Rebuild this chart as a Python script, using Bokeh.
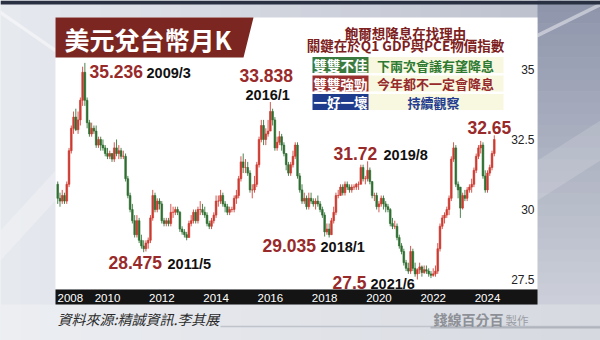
import pandas as pd
from bokeh.plotting import figure
from bokeh.models import Range1d, ColumnDataSource
from bokeh.core.properties import value
from bokeh.embed import file_html
from bokeh.resources import INLINE

# ---------------- data (monthly USD/TWD, 2008/3 .. 2024/4) ----------------
first_month = "2008-03"

open_ = [
    30.9, 30.4, 30.3, 30.5, 30.3, 30.9, 32.1, 32.9, 33.3, 32.85,                 # 2008 Mar-Dec
    33.2, 33.9, 34.9, 33.9, 33.1, 32.7, 32.9, 32.8, 32.3, 32.5, 32.3, 32.2,      # 2009
    32.0, 31.9, 32.0, 31.8, 32.2, 32.0, 32.1, 31.9, 31.9, 31.1, 30.5, 30.0,      # 2010
    29.6, 29.1, 29.6, 28.9, 28.7, 28.6, 28.8, 28.9, 29.7, 30.5, 30.0, 30.3,      # 2011
    30.2, 29.6, 29.5, 29.6, 29.5, 29.9, 29.9, 30.0, 29.9, 29.3, 29.2, 29.1,      # 2012
    29.0, 29.5, 29.6, 29.9, 29.6, 30.0, 30.0, 29.9, 29.8, 29.5, 29.4, 29.6,      # 2013
    29.8, 30.3, 30.3, 30.5, 30.2, 30.1, 29.9, 30.0, 30.0, 30.4, 30.5, 31.1,      # 2014
    31.7, 31.5, 31.5, 31.3, 30.7, 30.7, 30.9, 31.6, 32.5, 33.0, 32.5, 32.7,      # 2015
    32.8, 33.5, 33.2, 32.2, 32.4, 32.6, 32.3, 32.0, 31.6, 31.3, 31.6, 31.9,      # 2016
    32.3, 31.2, 30.7, 30.3, 30.4, 30.1, 30.4, 30.3, 30.2, 30.3, 30.2, 30.0,      # 2017
    29.8, 29.2, 29.3, 29.1, 29.6, 29.9, 30.5, 30.5, 30.8, 30.6, 30.9, 30.8,      # 2018
    30.7, 30.8, 30.8, 30.9, 30.9, 31.5, 31.1, 31.1, 31.4, 31.0, 30.5, 30.5,      # 2019
    30.1, 30.2, 30.4, 30.2, 30.1, 30.0, 29.5, 29.4, 29.4, 29.0, 28.7, 28.5,      # 2020
    28.1, 27.9, 27.8, 28.5, 27.9, 27.7, 27.85, 27.95, 27.75, 27.85, 27.8, 27.7,  # 2021
    27.65, 27.7, 27.8, 28.6, 29.4, 29.7, 29.8, 30.0, 30.4, 31.8, 32.2, 30.9,     # 2022
    30.8, 30.05, 30.5, 30.4, 30.7, 30.8, 30.9, 31.4, 31.9, 32.2, 32.3, 31.2,     # 2023
    30.7, 31.3, 31.5, 32.0,                                                     # 2024 Jan-Apr
]
high = [
    31.0, 30.6, 30.7, 30.6, 31.0, 32.2, 33.0, 33.5, 33.6, 33.5,
    34.0, 35.1, 35.236, 34.0, 33.2, 33.1, 33.0, 33.0, 32.6, 32.6, 32.5, 32.3,
    32.2, 32.1, 32.0, 32.4, 32.5, 32.3, 32.2, 32.1, 32.0, 31.2, 30.6, 30.2,
    29.8, 29.8, 29.7, 29.1, 28.9, 28.9, 29.0, 29.8, 30.7, 30.6, 30.4, 30.4,
    30.3, 29.7, 29.7, 29.7, 30.2, 30.1, 30.1, 30.1, 29.95, 29.4, 29.3, 29.2,
    29.6, 29.8, 30.0, 30.0, 30.1, 30.3, 30.2, 30.1, 29.9, 29.6, 29.7, 29.9,
    30.5, 30.5, 30.7, 30.6, 30.3, 30.2, 30.1, 30.1, 30.5, 30.7, 31.2, 31.9,
    32.0, 31.8, 31.7, 31.4, 30.9, 31.2, 31.7, 32.6, 33.2, 33.2, 32.9, 33.2,
    33.838, 33.6, 33.3, 32.6, 32.8, 32.7, 32.4, 32.0, 31.7, 31.7, 32.1, 32.4,
    32.4, 31.3, 30.9, 30.6, 30.5, 30.6, 30.6, 30.4, 30.4, 30.5, 30.3, 30.1,
    29.9, 29.5, 29.5, 29.7, 30.1, 30.6, 30.7, 30.9, 30.9, 31.0, 31.0, 30.9,
    30.9, 30.9, 30.95, 31.0, 31.6, 31.6, 31.2, 31.72, 31.5, 31.0, 30.6, 30.6,
    30.3, 30.5, 30.5, 30.3, 30.2, 30.05, 29.7, 29.6, 29.5, 29.1, 28.8, 28.6,
    28.2, 28.1, 28.7, 28.6, 28.1, 27.9, 28.1, 28.0, 28.0, 28.0, 27.9, 27.8,
    27.9, 28.0, 28.8, 29.5, 29.8, 29.9, 30.1, 30.5, 31.9, 32.4, 32.3, 31.0,
    30.8, 30.6, 30.7, 30.8, 30.9, 31.1, 31.5, 32.0, 32.3, 32.45, 32.4, 31.4,
    31.4, 31.6, 32.1, 32.65,
]
low = [
    30.2, 30.1, 30.2, 30.2, 30.2, 30.8, 32.0, 32.7, 32.8, 32.7,
    33.0, 33.7, 33.7, 32.9, 32.6, 32.6, 32.7, 32.2, 32.2, 32.1, 32.1, 31.9,
    31.8, 31.8, 31.7, 31.7, 31.9, 31.8, 31.8, 31.8, 31.0, 30.4, 29.9, 29.5,
    29.0, 29.0, 28.8, 28.6, 28.475, 28.5, 28.6, 28.8, 29.6, 29.9, 29.9, 30.0,
    29.5, 29.4, 29.4, 29.4, 29.4, 29.7, 29.8, 29.8, 29.2, 29.1, 29.0, 28.9,
    29.0, 29.4, 29.5, 29.5, 29.5, 29.8, 29.8, 29.7, 29.4, 29.3, 29.3, 29.5,
    29.7, 30.1, 30.2, 30.1, 29.9, 29.8, 29.8, 29.9, 29.9, 30.2, 30.4, 31.0,
    31.3, 31.3, 31.2, 30.6, 30.4, 30.6, 30.8, 31.5, 32.4, 32.3, 32.3, 32.6,
    32.8, 33.0, 32.1, 32.1, 32.3, 32.1, 31.9, 31.4, 31.2, 31.2, 31.5, 31.8,
    31.1, 30.6, 30.2, 30.2, 30.0, 30.0, 30.2, 30.1, 30.0, 30.1, 29.9, 29.7,
    29.035, 29.1, 29.0, 29.1, 29.5, 29.8, 30.4, 30.5, 30.5, 30.5, 30.7, 30.6,
    30.6, 30.7, 30.7, 30.7, 30.9, 31.0, 30.9, 31.0, 30.9, 30.4, 30.3, 30.0,
    29.9, 30.1, 30.0, 29.9, 29.9, 29.4, 29.3, 29.3, 28.9, 28.6, 28.4, 28.0,
    27.8, 27.7, 27.7, 27.8, 27.6, 27.5, 27.7, 27.6, 27.7, 27.7, 27.6, 27.55,
    27.6, 27.6, 27.7, 28.5, 29.3, 29.5, 29.7, 29.8, 30.3, 31.7, 30.8, 30.4,
    29.7, 30.0, 30.3, 30.3, 30.6, 30.6, 30.8, 31.3, 31.8, 32.0, 31.1, 30.6,
    30.6, 31.2, 31.4, 31.9,
]
close = [
    30.4, 30.3, 30.5, 30.3, 30.9, 32.1, 32.9, 33.3, 32.85, 33.2,
    33.9, 34.9, 33.9, 33.1, 32.7, 32.9, 32.8, 32.3, 32.5, 32.3, 32.2, 32.0,
    31.9, 32.0, 31.8, 32.2, 32.0, 32.1, 31.9, 31.9, 31.1, 30.5, 30.0, 29.6,
    29.1, 29.6, 28.9, 28.7, 28.6, 28.8, 28.9, 29.7, 30.5, 30.0, 30.3, 30.2,
    29.6, 29.5, 29.6, 29.5, 29.9, 29.9, 30.0, 29.9, 29.3, 29.2, 29.1, 29.0,
    29.5, 29.6, 29.9, 29.6, 30.0, 30.0, 29.9, 29.8, 29.5, 29.4, 29.6, 29.8,
    30.3, 30.3, 30.5, 30.2, 30.1, 29.9, 30.0, 30.0, 30.4, 30.5, 31.1, 31.7,
    31.5, 31.5, 31.3, 30.7, 30.7, 30.9, 31.6, 32.5, 33.0, 32.5, 32.7, 32.8,
    33.5, 33.2, 32.2, 32.4, 32.6, 32.3, 32.0, 31.6, 31.3, 31.6, 31.9, 32.3,
    31.2, 30.7, 30.3, 30.4, 30.1, 30.4, 30.3, 30.2, 30.3, 30.2, 30.0, 29.8,
    29.2, 29.3, 29.1, 29.6, 29.9, 30.5, 30.5, 30.8, 30.6, 30.9, 30.8, 30.7,
    30.8, 30.8, 30.9, 30.9, 31.5, 31.1, 31.1, 31.4, 31.0, 30.5, 30.5, 30.1,
    30.2, 30.4, 30.2, 30.1, 30.0, 29.5, 29.4, 29.4, 29.0, 28.7, 28.5, 28.1,
    27.9, 27.8, 28.5, 27.9, 27.7, 27.85, 27.95, 27.75, 27.85, 27.8, 27.7, 27.65,
    27.7, 27.8, 28.6, 29.4, 29.7, 29.8, 30.0, 30.4, 31.8, 32.2, 30.9, 30.7,
    30.05, 30.5, 30.4, 30.7, 30.8, 30.9, 31.4, 31.9, 32.2, 32.3, 31.2, 30.7,
    31.3, 31.5, 32.0, 32.5,
]

y_ticks = [27.5, 30, 32.5, 35]
y_tick_labels = ["27.5", "30", "32.5", "35"]
x_tick_years = [2008, 2010, 2012, 2014, 2016, 2018, 2020, 2022, 2024]

ann_values = ["35.236", "28.475", "33.838", "29.035", "31.72", "27.5", "32.65"]
ann_dates = ["2009/3", "2011/5", "2016/1", "2018/1", "2019/8", "2021/6", ""]

title_text = "美元兌台幣月K"
info_lines = ["飽爾想降息在找理由", "關鍵在於Q1 GDP與PCE物價指數"]
row_tags = ["雙雙不佳", "雙雙強勁", "一好一壞"]
row_texts = ["下兩次會議有望降息", "今年都不一定會降息", "持續觀察"]
source_text = "資料來源:精誠資訊.李其展"
logo_text = "錢線百分百"
logo_suffix = "製作"

# ---------------- layout ----------------
W, H = 600, 340
PX0, PXM = 52.7, 2.262            # pixel of month index 0, pixels per month
PY35, PYU = 69.0, 28.0            # pixel of 35.0, pixels per unit
XL, XR = -PX0 / PXM, (W - PX0) / PXM
YT, YB = 35 + PY35 / PYU, 35 - (H - PY35) / PYU

CJK = value("Noto Sans CJK TC")
LAT = value("Liberation Sans")

p = figure(width=W, height=H, x_range=Range1d(XL, XR), y_range=Range1d(YB, YT),
           output_backend="svg", toolbar_location=None, min_border=0,
           x_axis_location=None, y_axis_location=None, outline_line_color=None,
           background_fill_color="#dfe2e9", border_fill_color="#dfe2e9", title=None)
p.grid.visible = False
p.extra_x_ranges = {"px": Range1d(0, W)}
p.extra_y_ranges = {"py": Range1d(H, 0)}
PXK = dict(x_range_name="px", y_range_name="py")


def lerp(c0, c1, t):
    a = [int(c0[i:i + 2], 16) for i in (1, 3, 5)]
    b = [int(c1[i:i + 2], 16) for i in (1, 3, 5)]
    return "#%02x%02x%02x" % tuple(round(a[k] + (b[k] - a[k]) * t) for k in range(3))


# background: horizontal gradient
n = 30
for k in range(n):
    t = k / (n - 1)
    p.quad(left=W * k / n, right=W * (k + 1) / n + 0.5, top=0, bottom=H,
           fill_color=lerp("#e6e9ee", "#b9bdcb", t), line_color=None, **PXK)
# right strip vertical gradient
for k in range(n):
    t = k / (n - 1)
    p.quad(left=537, right=W, top=H * k / n, bottom=H * (k + 1) / n + 0.5,
           fill_color=lerp("#8f96ab", "#d3d6de", t), line_color=None, **PXK)
# bottom band
for k in range(n):
    t = k / (n - 1)
    p.quad(left=W * k / n, right=W * (k + 1) / n + 0.5, top=304, bottom=H,
           fill_color=lerp("#eceef2", "#d6d9e0", t), line_color=None, **PXK)
# light diagonal streaks
p.patch(x=[0, 55, 55, 0], y=[10, 48, 52, 14], fill_color="white", fill_alpha=0.45, line_color=None, **PXK)
p.patch(x=[537, 600, 600, 537], y=[33, 2, 6, 37], fill_color="white", fill_alpha=0.45, line_color=None, **PXK)
p.patch(x=[537, 600, 600, 537], y=[160, 120, 160, 200], fill_color="white", fill_alpha=0.15, line_color=None, **PXK)
p.patch(x=[0, 55, 55, 0], y=[230, 170, 200, 260], fill_color="white", fill_alpha=0.25, line_color=None, **PXK)
# top dark strip
p.quad(left=0, right=W, top=0, bottom=4, fill_color="#283042", line_color=None, **PXK)

# white chart panel + black axis bar
p.quad(left=55, right=537, top=17, bottom=289, fill_color="white", line_color=None, **PXK)
p.quad(left=55, right=537, top=289, bottom=304, fill_color="#141414", line_color=None, **PXK)

# title box
p.patch(x=[55, 253, 243, 55], y=[17, 17, 57, 57], fill_color="#7b2620", line_color=None, **PXK)
p.text(x=[64], y=[38], text=[title_text], text_font=CJK, text_font_style="bold",
       text_font_size="25px", text_color="white", text_baseline="middle", **PXK)

# info box
p.text(x=[405, 405], y=[32, 44], text=info_lines, text_font=CJK, text_font_style="bold",
       text_font_size="13.5px", text_color="#7d2020", text_align="center",
       text_baseline="middle", **PXK)
row_y = [64.5, 83, 101.5]
tag_fill = ["#3b7a3f", "#9a3030", "#1f3c8c"]
txt_col = ["#2e7a32", "#962a2a", "#233c90"]
p.quad(left=[368] * 3, right=[503] * 3, top=[y - 8 for y in row_y], bottom=[y + 8 for y in row_y],
       fill_color="#f8f7e0", line_color=None, **PXK)
p.quad(left=[312] * 3, right=[368] * 3, top=[y - 8 for y in row_y], bottom=[y + 8 for y in row_y],
       fill_color=tag_fill, line_color=None, **PXK)
p.text(x=[340] * 3, y=row_y, text=row_tags, text_font=CJK, text_font_style="bold",
       text_font_size="13.5px", text_color="white", text_align="center", text_baseline="middle", **PXK)
p.text(x=[435, 435, 433], y=row_y, text=row_texts, text_font=CJK, text_font_style="bold",
       text_font_size="13px", text_color=txt_col, text_align="center", text_baseline="middle", **PXK)

# candles
months = pd.period_range(first_month, periods=len(close), freq="M")
xi = [(m.year - 2008) * 12 + m.month - 1 for m in months]
up = [c >= o for o, c in zip(open_, close)]
src = ColumnDataSource(dict(
    x=xi, o=open_, h=high, l=low, c=close,
    top=[max(o, c) for o, c in zip(open_, close)],
    bot=[min(o, c) for o, c in zip(open_, close)],
    col=["#cc3b30" if u else "#2f6e31" for u in up],
))
p.segment(x0="x", y0="l", x1="x", y1="h", line_color="col", line_width=1, line_alpha=0.85, source=src)
p.vbar(x="x", width=0.75, top="top", bottom="bot", fill_color="col", line_color="col",
       line_width=0.6, source=src)

# y tick labels (inside panel, right side)
p.text(x=[534] * len(y_ticks), y=y_ticks, text=y_tick_labels, x_range_name="px",
       text_font=LAT, text_font_size="12px", text_color="#222222", text_align="right",
       text_baseline="middle")

# x tick labels in the black bar
xt = [(yr - 2008) * 12 for yr in x_tick_years]
p.text(x=xt[1:], y=[297] * (len(xt) - 1), text=[str(y) for y in x_tick_years[1:]], y_range_name="py",
       text_font=LAT, text_font_size="11.5px", text_color="white", text_align="center",
       text_baseline="middle")
p.text(x=[57], y=[297], text=[str(x_tick_years[0])], **PXK,
       text_font=LAT, text_font_size="11.5px", text_color="white", text_baseline="middle")

# annotations
val_pos = [(89, 71), (108, 262), (239, 75), (262, 245), (333, 153), (332, 282), (467, 127)]
date_pos = [(146, 72), (167, 263), (245, 94), (320, 246), (383, 154), (370, 283), (0, 0)]
p.text(x=[q[0] for q in val_pos], y=[q[1] for q in val_pos], text=ann_values, text_font=LAT,
       text_font_style="bold", text_font_size="17.5px", text_color="#992a2a",
       text_baseline="middle", **PXK)
p.text(x=[q[0] for q in date_pos[:-1]], y=[q[1] for q in date_pos[:-1]], text=ann_dates[:-1],
       text_font=LAT, text_font_style="bold", text_font_size="14.5px", text_color="#111111",
       text_baseline="middle", **PXK)

# footer
p.line(x=[220, 600], y=[326, 326], line_color="#bfc3cb", line_width=1.5, **PXK)
p.line(x=[430, 600], y=[327, 327], line_color="#b0b4bd", line_width=2, **PXK)
p.text(x=[57], y=[318], text=[source_text], text_font=CJK, text_font_style="italic",
       text_font_size="14px", text_color="#2a2a2a", text_baseline="middle", **PXK)
p.text(x=[433], y=[318], text=[logo_text], text_font=CJK, text_font_style="bold",
       text_font_size="14px", text_color="#8d9096", text_baseline="middle", **PXK)
p.text(x=[505], y=[319], text=[logo_suffix], text_font=CJK,
       text_font_size="11.5px", text_color="#9a9da4", text_baseline="middle", **PXK)

open("out.html", "w").write(file_html(p, INLINE))
